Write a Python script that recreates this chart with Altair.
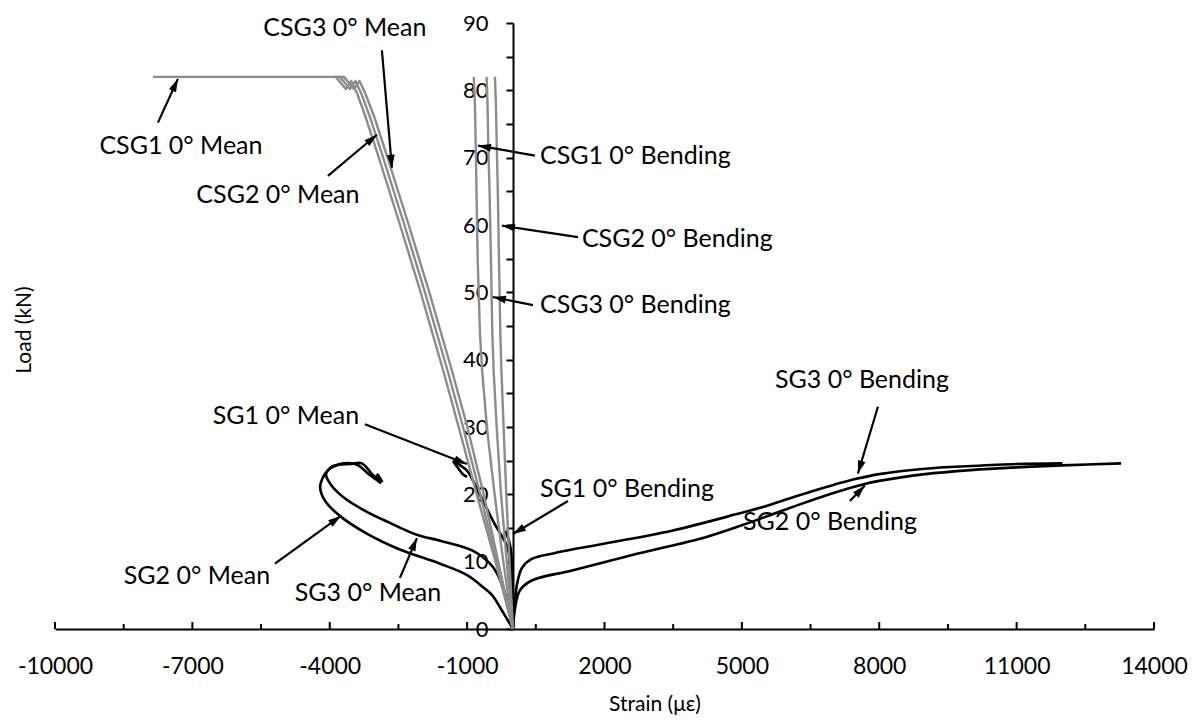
import math
import altair as alt
import pandas as pd

# ---------------- chart geometry ----------------
W, H = 1099, 606
XMIN, XMAX = -10000, 14000
YMIN, YMAX = 0, 90
FONT = "Lato"

# ---------------- data ----------------
# gray "CSG" gauges
csg1_mean_x = [0, -380, -790, -1185, -1515, -2015, -2465, -2965, -3215, -3400, -3530, -3650, -3870, -5500, -7860]
csg1_mean_y = [0, 10, 20, 30, 38.2, 50, 60, 70.8, 76, 79.5, 81.4, 80.2, 82, 82, 82]
csg2_mean_x = [0, -350, -715, -1090, -1420, -1920, -2370, -2870, -3120, -3310, -3440, -3560, -3780, -3850]
csg2_mean_y = [0, 10, 20, 30, 38.2, 50, 60, 70.8, 76, 79.5, 81.4, 80.2, 82, 82]
csg3_mean_x = [0, -320, -640, -995, -1325, -1825, -2275, -2775, -3025, -3220, -3350, -3470, -3690, -3880]
csg3_mean_y = [0, 10, 20, 30, 38.2, 50, 60, 70.8, 76, 79.5, 81.4, 80.2, 82, 82]

bend_loads = [0, 10, 20, 29.4, 38.2, 44, 55, 65, 71, 78, 82]
csg1_bend_x = [0, -210, -400, -560, -670, -720, -770, -795, -810, -830, -855]
csg3_bend_x = [0, -135, -260, -350, -420, -450, -480, -510, -535, -555, -575]
csg2_bend_x = [0, -75, -145, -200, -250, -275, -305, -330, -350, -372, -393]

# black "SG" gauges
sg1_mean_x = [0, -50, -110, -260, -430, -650, -870, -1000, -1150, -1300, -1230, -1080, -1000]
sg1_mean_y = [0, 6, 12, 14, 16, 19, 22, 23.5, 24.3, 24.9, 24.2, 22.9, 22.6]
sg1_bend_x = [0, -5, -10, -20, -40, -90, -170]
sg1_bend_y = [0, 3, 6, 9, 11.5, 13.2, 14.6]

sg2_mean_x = [0, -130, -280, -450, -650, -1000, -1590, -2470, -3200, -3780, -4100, -4210, -4150, -4060,
              -3930, -3560, -3300, -3100, -2900, -2980, -2880, -2950, -2850]
sg2_mean_y = [0, 1.5, 3.2, 5, 6.2, 8, 9.7, 11.8, 14.2, 16.8, 19, 21, 22.5, 23.4,
              24.2, 24.5, 24.6, 23.2, 21.7, 22.8, 22.0, 23.0, 21.8]
sg3_mean_x = [0, -80, -220, -350, -500, -870, -1590, -2100, -2700, -3190, -3650, -3950, -4080, -4050,
              -3950, -3700, -3400, -3150, -2950, -3020, -2930]
sg3_mean_y = [0, 3, 6.2, 8.3, 9.7, 11.6, 13.1, 14.0, 15.8, 17.4, 19.3, 21.2, 22.8, 23.5,
              24.0, 24.6, 24.4, 23.0, 22.0, 22.6, 21.9]

sg2_bend_x = [0, 40, 150, 410, 1290, 2730, 4190, 5000, 5650, 6220, 7000, 7600, 8000, 9000, 10000, 11000,
              12000, 13280]
sg2_bend_y = [0, 2.8, 5.7, 7.2, 8.7, 11.2, 13.6, 15.4, 17.0, 18.4, 20.2, 21.4, 22.0, 23.0, 23.6, 24.0,
              24.3, 24.6]
sg3_bend_x = [0, 40, 90, 200, 410, 920, 2010, 3470, 4910, 5500, 6000, 6500, 7000, 7500, 8000, 9000, 10000,
              11000, 12000]
sg3_bend_y = [0, 3.5, 6.7, 9.1, 10.4, 11.3, 12.7, 14.6, 17.1, 18.2, 19.3, 20.4, 21.4, 22.3, 23.0, 23.8,
              24.2, 24.5, 24.6]

# axis ticks
x_major_ticks = [-10000, -7000, -4000, -1000, 2000, 5000, 8000, 11000, 14000]
x_minor_ticks = [-8500, -5500, -2500, 500, 3500, 6500, 9500, 12500]
y_ticks = [0, 5, 10, 15, 20, 25, 30, 35, 40, 45, 50, 55, 60, 65, 70, 75, 80, 85, 90]

# annotations
ann_text = ["CSG3 0° Mean", "CSG1 0° Mean", "CSG2 0° Mean", "CSG1 0° Bending", "CSG2 0° Bending",
            "CSG3 0° Bending", "SG1 0° Mean", "SG2 0° Mean", "SG3 0° Mean", "SG1 0° Bending",
            "SG3 0° Bending", "SG2 0° Bending"]
ann_x = [-3669, -7250, -5132, 590, 1507, 590, -4957, -6901, -3167, 590, 7622, 6923]
ann_y = [89.2, 71.8, 64.4, 70.3, 57.9, 48.1, 31.7, 7.9, 5.3, 20.8, 37.0, 15.9]
ann_align = ["center", "center", "center", "left", "left", "left", "center", "center", "center", "left",
             "center", "center"]
tail_x = [-2861, -7752, -4040, 480, 1419, 437, -3232, -5197, -2468, 1201, 7971, 7359]
tail_y = [85.95, 75.2, 67.3, 70.3, 58.2, 48.1, 30.4, 9.7, 7.6, 19.0, 33.0, 19.0]
tip_x = [-2642, -7316, -2970, -764, -240, -437, -1005, -3756, -2096, 0, 7534, 7687]
tip_y = [68.5, 81.7, 73.4, 71.8, 59.9, 49.3, 24.5, 16.8, 13.5, 14.1, 23.1, 21.3]

# ---------------- tables ----------------
gray_series = [
    ("CSG1 0° Mean", csg1_mean_x, csg1_mean_y),
    ("CSG2 0° Mean", csg2_mean_x, csg2_mean_y),
    ("CSG3 0° Mean", csg3_mean_x, csg3_mean_y),
    ("CSG1 0° Bending", csg1_bend_x, bend_loads),
    ("CSG2 0° Bending", csg2_bend_x, bend_loads),
    ("CSG3 0° Bending", csg3_bend_x, bend_loads),
]
black_series = [
    ("SG1 0° Mean", sg1_mean_x, sg1_mean_y),
    ("SG1 0° Bending", sg1_bend_x, sg1_bend_y),
    ("SG2 0° Mean", sg2_mean_x, sg2_mean_y),
    ("SG3 0° Mean", sg3_mean_x, sg3_mean_y),
    ("SG2 0° Bending", sg2_bend_x, sg2_bend_y),
    ("SG3 0° Bending", sg3_bend_x, sg3_bend_y),
]


def to_df(series):
    rows = []
    for name, xs, ys in series:
        for i, (xv, yv) in enumerate(zip(xs, ys)):
            rows.append({"series": name, "strain": xv, "load": yv, "idx": i})
    return pd.DataFrame(rows)


gray_df = to_df(gray_series)
black_df = to_df(black_series)

sx = W / (XMAX - XMIN)
sy = H / (YMAX - YMIN)
angles = []
for tx0, ty0, tx1, ty1 in zip(tail_x, tail_y, tip_x, tip_y):
    dxp = (tx1 - tx0) * sx
    dyp = -(ty1 - ty0) * sy
    angles.append(math.degrees(math.atan2(dxp, -dyp)) % 360)

arrow_df = pd.DataFrame({"strain": tail_x, "load": tail_y, "strain2": tip_x, "load2": tip_y})
head_df = pd.DataFrame({"strain": tip_x, "load": tip_y, "ang": angles})
text_df = pd.DataFrame({"strain": ann_x, "load": ann_y, "label": ann_text, "align": ann_align})
major_df = pd.DataFrame({"strain": x_major_ticks})
minor_df = pd.DataFrame({"strain": x_minor_ticks})

xscale = alt.Scale(domain=[XMIN, XMAX], nice=False, zero=False)
yscale = alt.Scale(domain=[YMIN, YMAX], nice=False, zero=False)

x_axis = alt.Axis(values=x_major_ticks, labelExpr="datum.value + ''", tickSize=0, domainColor="black",
                  domainWidth=2, labelFont=FONT, labelFontSize=23, labelColor="black", labelPadding=26,
                  grid=False, title=None, labelFlush=False, labelOverlap=False)
y_axis = alt.Axis(values=y_ticks, labelExpr="datum.value % 10 == 0 ? datum.value + '' : ''", tickSize=7,
                  tickWidth=2, tickColor="black", domainColor="black", domainWidth=2, labelFont=FONT,
                  labelFontSize=22, labelColor="black", labelPadding=18, grid=False, title=None,
                  offset=-458, labelFlush=False, labelOverlap=False)

X = alt.X("strain:Q", scale=xscale, axis=x_axis)
Y = alt.Y("load:Q", scale=yscale, axis=y_axis)

black_lines = alt.Chart(black_df).mark_line(color="black", strokeWidth=2.6, strokeJoin="round",
                                            interpolate="catmull-rom").encode(
    x=X, y=Y, detail="series:N", order="idx:Q")
gray_lines = alt.Chart(gray_df).mark_line(color="#8c8c8c", strokeWidth=2.4, strokeJoin="round").encode(
    x=X, y=Y, detail="series:N", order="idx:Q")

major_ticks = alt.Chart(major_df).mark_rule(color="black", strokeWidth=2).encode(
    x=X, y=alt.value(H), y2=alt.value(H - 7))
minor_ticks = alt.Chart(minor_df).mark_rule(color="black", strokeWidth=2).encode(
    x=X, y=alt.value(H), y2=alt.value(H - 5))

arrows = alt.Chart(arrow_df).mark_rule(color="black", strokeWidth=2.2).encode(
    x=X, y=Y, x2="strain2:Q", y2="load2:Q")
heads = alt.Chart(head_df).mark_point(shape="M0,0L-0.6,2L0.6,2Z", filled=True, color="black", opacity=1,
                                      size=169, strokeWidth=0).encode(
    x=X, y=Y, angle=alt.Angle("ang:Q", scale=None))

texts_c = alt.Chart(text_df[text_df["align"] == "center"]).mark_text(
    font=FONT, fontSize=25, color="black", align="center", baseline="middle").encode(
    x=X, y=Y, text="label:N")
texts_l = alt.Chart(text_df[text_df["align"] == "left"]).mark_text(
    font=FONT, fontSize=25, color="black", align="left", baseline="middle").encode(
    x=X, y=Y, text="label:N")

title_df = pd.DataFrame({"t": ["Strain (με)"]})
ytitle_df = pd.DataFrame({"t": ["Load (kN)"]})
x_title = alt.Chart(title_df).mark_text(font=FONT, fontSize=21, color="black", align="center",
                                        baseline="middle").encode(
    x=alt.value(600), y=alt.value(682), text="t:N")
y_title = alt.Chart(ytitle_df).mark_text(font=FONT, fontSize=21, color="black", align="center",
                                         baseline="middle", angle=270).encode(
    x=alt.value(-30), y=alt.value(307), text="t:N")

chart = alt.layer(black_lines, gray_lines, major_ticks, minor_ticks, arrows, heads, texts_c, texts_l,
                  x_title, y_title).properties(
    width=W, height=H,
    autosize=alt.AutoSizeParams(type="none"),
    padding={"left": 47, "top": 15, "right": 34, "bottom": 90},
).configure_view(stroke=None)

chart.save("out.html", embed_options={"renderer": "svg", "actions": False})
